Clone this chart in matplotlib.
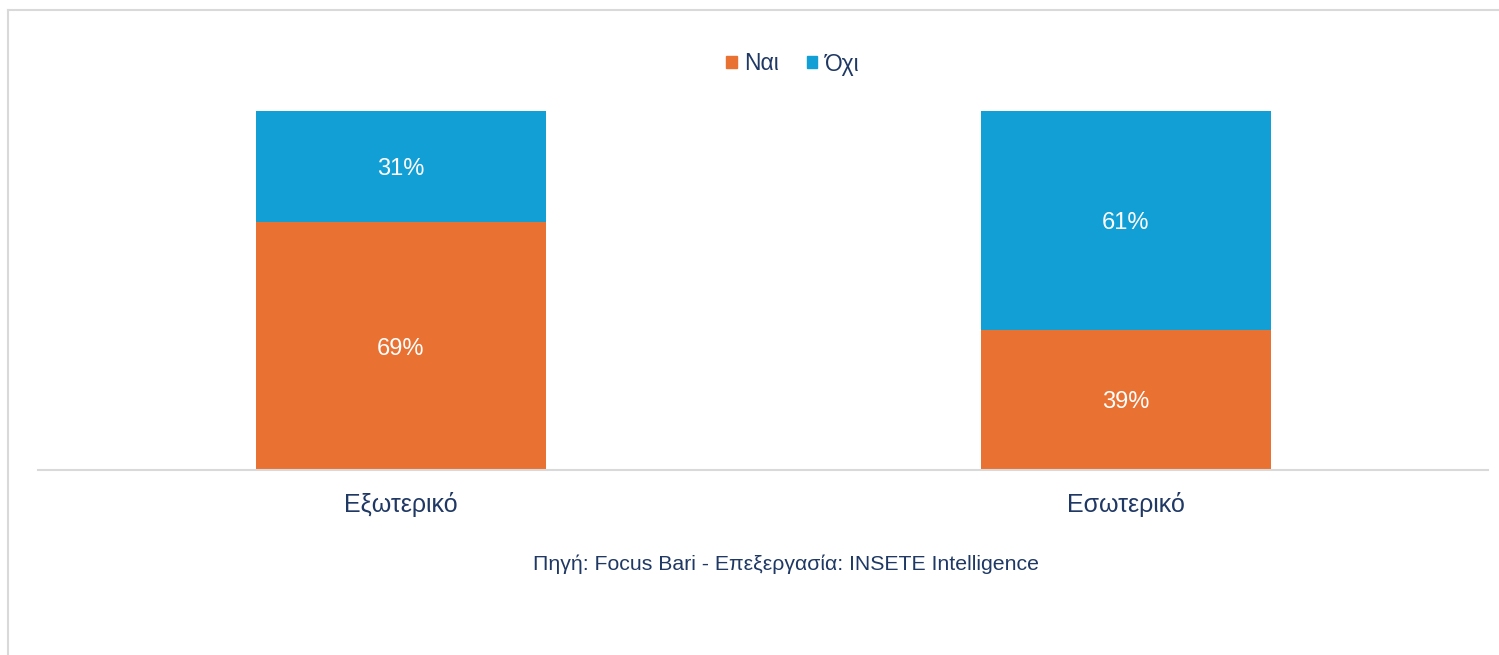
import numpy as np
import matplotlib.pyplot as plt
from matplotlib.lines import Line2D
from matplotlib.patches import Patch

plt.rcParams['font.family'] = ['Liberation Sans', 'DejaVu Sans']

categories = ['Εξωτερικό', 'Εσωτερικό']
nai = [69, 39]
oxi = [31, 61]
series_names = ['Ναι', 'Όχι']
source = 'Πηγή: Focus Bari - Επεξεργασία: INSETE Intelligence'

orange = '#E97132'
blue = '#119FD6'
navy = '#1F3864'

W, H = 1499, 655
fig = plt.figure(figsize=(W / 100, H / 100), dpi=100)
ax = fig.add_axes([38 / W, 1 - 470 / H, 1450 / W, (470 - 111) / H])

x = np.arange(len(categories))
b1 = ax.bar(x, nai, width=0.4, color=orange)
b2 = ax.bar(x, oxi, width=0.4, bottom=nai, color=blue)

for rects, vals, bots in [(b1, nai, [0, 0]), (b2, oxi, nai)]:
    for r, v, b in zip(rects, vals, bots):
        ax.text(r.get_x() + r.get_width() / 2, b + v / 2, f'{v}%',
                ha='center', va='center_baseline', color='white', fontsize=17)

ax.set_xlim(-0.5, 1.5)
ax.set_ylim(0, 100)
ax.set_yticks([])
ax.set_xticks(x)
ax.set_xticklabels(categories, fontsize=18, color=navy)
ax.tick_params(axis='x', length=0, pad=16)
for s in ['top', 'right', 'left']:
    ax.spines[s].set_visible(False)
ax.spines['bottom'].set_color('#D9D9D9')
ax.spines['bottom'].set_linewidth(1.5)

# legend at top centre
handles = [Patch(color=orange), Patch(color=blue)]
fig.legend(handles, series_names, loc='center', bbox_to_anchor=(793 / W, 1 - 64 / H),
           ncol=2, frameon=False, fontsize=16.5, handlelength=0.45, handleheight=0.45,
           handletextpad=0.35, columnspacing=1.2, labelcolor=navy)

fig.text(786 / W, 1 - 564 / H, source, ha='center', va='center', fontsize=15.3, color=navy)

# outer frame
fig.add_artist(Line2D([8 / W, 1], [1 - 10 / H, 1 - 10 / H], color='#D9D9D9', lw=1.5))
fig.add_artist(Line2D([8 / W, 8 / W], [0, 1 - 10 / H], color='#D9D9D9', lw=1.5))

fig.savefig('out.png', dpi=100, facecolor='white')
